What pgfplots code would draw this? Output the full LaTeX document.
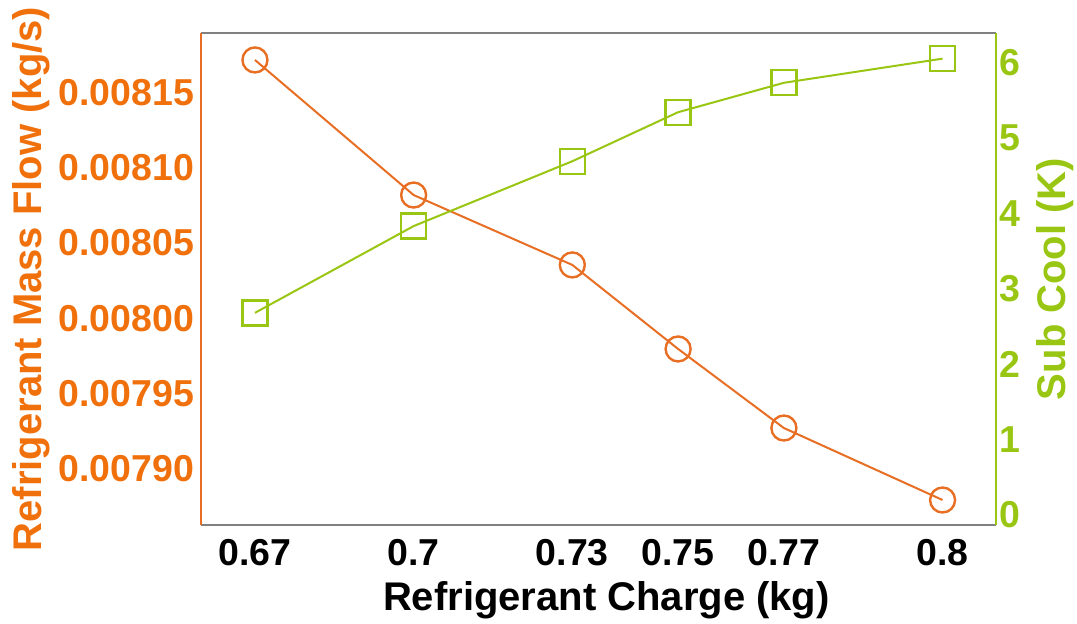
\documentclass[border=0pt]{standalone}
\usepackage{fontspec}
\setmainfont{Liberation Sans}
\usepackage{pgfplots}
\pgfplotsset{compat=1.18}
\definecolor{myor}{RGB}{240,112,12}
\definecolor{myorl}{RGB}{232,110,36}
\definecolor{mygr}{RGB}{153,198,18}
\newcommand\tickfont{\fontsize{18.75}{22}\selectfont\bfseries}
\newcommand\labfont{\fontsize{20}{24}\selectfont\bfseries}
\begin{document}
\begin{tikzpicture}
\useasboundingbox (-100.5pt,-49pt) rectangle (438pt,262.5pt);
\begin{axis}[
  at={(0,0)}, anchor=south west,
  scale only axis, width=397.5pt, height=246pt,
  xmin=0.6598, xmax=0.8101, ymin=0.0078628, ymax=0.0081895,
  clip=false,
  axis line style={draw=none},
  major tick length=0pt,
  xtick pos=bottom, ytick pos=left,
  xtick={0.67,0.7,0.73,0.75,0.77,0.8},
  xticklabels={0.67,0.7,0.73,0.75,0.77,0.8},
  ytick={0.0079,0.00795,0.008,0.00805,0.0081,0.00815},
  yticklabels={0.00790,0.00795,0.00800,0.00805,0.00810,0.00815},
  scaled y ticks=false, scaled x ticks=false,
  xticklabel style={font=\tickfont, anchor=base, inner sep=0pt, yshift=-20pt},
  yticklabel style={font=\tickfont, text=myor, anchor=east, inner sep=0pt, xshift=-3.2pt},
  xlabel={Refrigerant Charge (kg)},
  xlabel style={font=\labfont, at={(axis description cs:0.51,-0.1728)}, anchor=base},
  ylabel={Refrigerant Mass Flow (kg/s)},
  ylabel style={font=\labfont, text=myor, at={(axis description cs:-0.2,0.5)}, anchor=base},
]
\addplot[myorl, line width=1pt, mark=o, mark size=6.25pt, mark options={line width=1.2pt}]
  coordinates {(0.67,0.0081716) (0.70,0.0080819) (0.73,0.0080355) (0.75,0.0079797) (0.77,0.0079272) (0.80,0.0078794)};
\draw[gray, line width=0.6pt] (rel axis cs:0,0) -- (rel axis cs:1,0);
\draw[gray, line width=0.6pt] (rel axis cs:0,1) -- (rel axis cs:1,1);
\draw[myorl, line width=1.1pt] (rel axis cs:0,0) -- (rel axis cs:0,1);
\end{axis}
\begin{axis}[
  at={(0,0)}, anchor=south west,
  scale only axis, width=397.5pt, height=246pt,
  xmin=0.6598, xmax=0.8101, ymin=-0.133, ymax=6.39,
  clip=false,
  hide x axis,
  axis line style={draw=none},
  major tick length=0pt,
  yticklabel pos=right, ytick pos=right,
  ytick={0,1,2,3,4,5,6},
  yticklabels={0,1,2,3,4,5,6},
  yticklabel style={font=\tickfont, text=mygr, anchor=west, inner sep=0pt, xshift=1.5pt},
  ylabel={Sub Cool (K)},
  ylabel style={font=\labfont, text=mygr, at={(axis description cs:1.087,0.5)}, anchor=base, rotate=0},
]
\addplot[mygr, line width=1pt, mark=square, mark size=6.25pt, mark options={line width=1.2pt}]
  coordinates {(0.67,2.68) (0.70,3.83) (0.73,4.69) (0.75,5.34) (0.77,5.73) (0.80,6.05)};
\draw[mygr, line width=1.3pt] (rel axis cs:1,0) -- (rel axis cs:1,1);
\end{axis}
\end{tikzpicture}
\end{document}
